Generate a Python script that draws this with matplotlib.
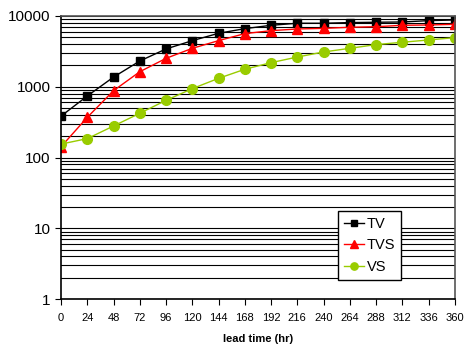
import matplotlib
matplotlib.use("Agg")
import matplotlib.pyplot as plt
from matplotlib.ticker import LogLocator, NullFormatter, FixedLocator

plt.rcParams['font.family'] = ['Liberation Sans', 'DejaVu Sans']

# lead time (hr)
lead = [0, 24, 48, 72, 96, 120, 144, 168, 192, 216, 240, 264, 288, 312, 336, 360]

tv = [385, 740, 1370, 2310, 3420, 4480, 5690, 6620, 7380, 7890,
      7890, 8060, 8150, 8220, 8590, 8780]
tvs = [142, 370, 880, 1630, 2520, 3490, 4480, 5630, 6200, 6550,
       6680, 6920, 7050, 7380, 7460, 7620]
vs = [155, 185, 279, 422, 643, 940, 1315, 1766, 2190, 2630,
      3100, 3490, 3940, 4250, 4580, 4940]

fig = plt.figure(figsize=(4.66, 3.47), dpi=100)
ax = fig.add_axes([0.131, 0.138, 0.845, 0.816])

ax.plot(lead, tv, color='black', lw=1, marker='s', ms=6, label='TV')
ax.plot(lead, tvs, color='#ff0000', lw=1, marker='^', ms=7, label='TVS')
ax.plot(lead, vs, color='#99cc00', lw=1, marker='o', ms=7, label='VS')

ax.set_yscale('log')
ax.set_ylim(1, 10000)
ax.set_xlim(0, 360)

ax.xaxis.set_major_locator(FixedLocator(lead))
ax.yaxis.set_minor_locator(LogLocator(base=10, subs=range(2, 10), numticks=20))
ax.yaxis.set_minor_formatter(NullFormatter())
ax.set_yticks([1, 10, 100, 1000, 10000])
ax.set_yticklabels(['1', '10', '100', '1000', '10000'])

ax.grid(True, which='both', axis='y', color='black', lw=0.8)
ax.tick_params(axis='y', which='major', direction='out', length=4, labelsize=11, color='black')
ax.tick_params(axis='y', which='minor', length=0)
ax.tick_params(axis='x', direction='out', length=4, labelsize=8, pad=6)

for s in ['left', 'bottom']:
    ax.spines[s].set_color('black')
    ax.spines[s].set_linewidth(1.2)
for s in ['top', 'right']:
    ax.spines[s].set_color('#555555')
    ax.spines[s].set_linewidth(1.2)

ax.set_xlabel('lead time (hr)', fontsize=8, fontweight='bold', labelpad=8)

leg = ax.legend(loc='lower left', bbox_to_anchor=(0.703, 0.069), fontsize=10.5,
                frameon=True, fancybox=False, edgecolor='black', framealpha=1,
                handlelength=1.4, handletextpad=0.2, borderpad=0.4, labelspacing=0.5,
                markerscale=0.75, borderaxespad=0)
leg.get_frame().set_linewidth(1)

fig.savefig('out.png', dpi=100)
